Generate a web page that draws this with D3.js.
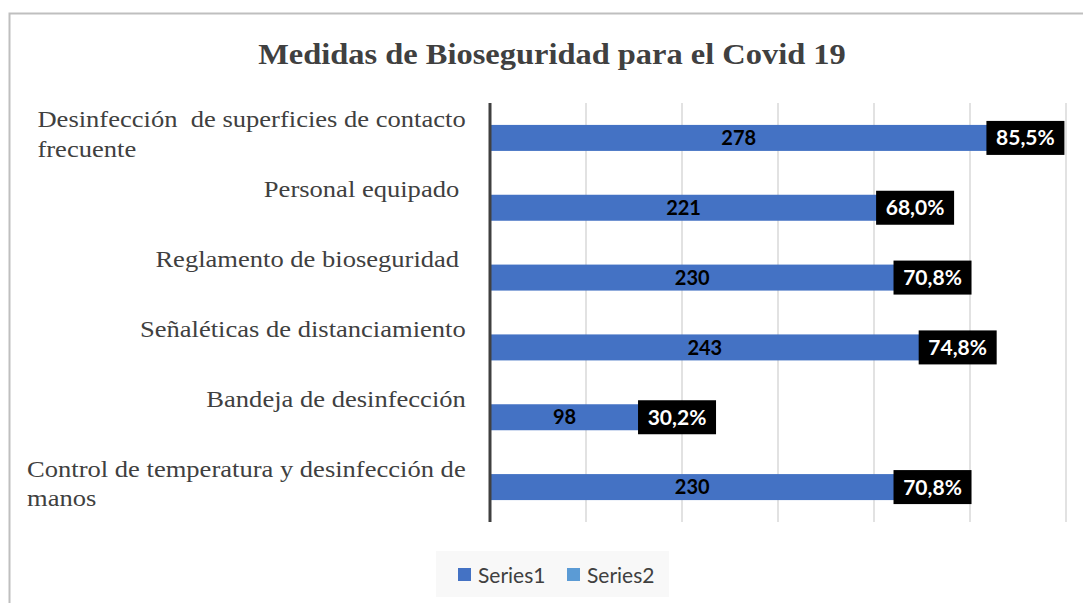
<!DOCTYPE html>
<html>
<head>
<meta charset="utf-8">
<script src="https://cdn.jsdelivr.net/npm/d3@7"></script>
<style>
    body { margin: 0; background: #fff; }
    text.cat { white-space: pre; }
</style>
</head>
<body>
<div id="chart"></div>
<script>
// data
const categories = [
    "Desinfección  de superficies de contacto\nfrecuente",
    "Personal equipado ",
    "Reglamento de bioseguridad ",
    "Señaléticas de distanciamiento",
    "Bandeja de desinfección",
    "Control de temperatura y desinfección de\nmanos"
];
const series1 = [278, 221, 230, 243, 98, 230];
const series2 = [85.5, 68.0, 70.8, 74.8, 30.2, 70.8];
const seriesNames = ["Series1", "Series2"];
// axis in the original doesn't start at zero, gridlines every ~49.6
const xMin = 21;
const gridStep = 49.6;
const gridCount = 6;

class BarChart {

    constructor(_config) {
        this.config = {
            parentElement: _config.parentElement,
            containerWidth: _config.containerWidth || 1083,
            containerHeight: _config.containerHeight || 603,
            margin: _config.margin || {top: 103, right: 17, bottom: 81, left: 490}
        };
        this.initVis();
    }

    initVis() {
        let vis = this;

        vis.width = vis.config.containerWidth - vis.config.margin.left - vis.config.margin.right;
        vis.height = vis.config.containerHeight - vis.config.margin.top - vis.config.margin.bottom;

        vis.svg = d3.select(vis.config.parentElement)
            .append('svg')
            .attr('width', vis.config.containerWidth)
            .attr('height', vis.config.containerHeight);

        // chart frame
        vis.svg.append('rect')
            .attr('x', 9.5)
            .attr('y', 13.5)
            .attr('width', 1100)
            .attr('height', 700)
            .attr('fill', 'white')
            .attr('stroke', '#bfbfbf')
            .attr('stroke-width', 2);

        // the original picture is a bit stretched sideways, so text gets scaleX
        vis.svg.append('text')
            .attr('transform', 'translate(552,64) scale(1.1,1)')
            .attr('text-anchor', 'middle')
            .style('font-family', '"Liberation Serif", "Times New Roman", serif')
            .style('font-weight', 'bold')
            .style('font-size', '29.5px')
            .style('fill', '#404040')
            .text('Medidas de Bioseguridad para el Covid 19');

        vis.chart = vis.svg.append('g')
            .attr('transform', `translate(${vis.config.margin.left},${vis.config.margin.top})`);

        vis.xScale = d3.scaleLinear()
            .domain([xMin, xMin + gridStep * gridCount])
            .range([0, 576]);

        vis.yScale = d3.scaleBand()
            .domain(categories)
            .range([0, vis.height]);

        vis.renderVis();
    }

    renderVis() {
        let vis = this;
        const data = categories.map((c, i) => ({cat: c, v: series1[i], p: series2[i]}));
        const barH = 26;
        const sx = 1.155;

        // gridlines
        vis.chart.selectAll('.grid')
            .data(d3.range(1, gridCount + 1).map(i => xMin + i * gridStep))
            .join('line')
            .attr('class', 'grid')
            .attr('x1', d => vis.xScale(d))
            .attr('x2', d => vis.xScale(d))
            .attr('y1', 0)
            .attr('y2', vis.height)
            .attr('stroke', '#d9d9d9')
            .attr('stroke-width', 1.5);

        // bars
        vis.chart.selectAll('.bar')
            .data(data)
            .join('rect')
            .attr('class', 'bar')
            .attr('x', 0)
            .attr('y', d => vis.yScale(d.cat) + vis.yScale.bandwidth() / 2 - barH / 2)
            .attr('width', d => vis.xScale(d.v) - vis.xScale(xMin))
            .attr('height', barH)
            .attr('fill', '#4472c4');

        // axis line
        vis.chart.append('line')
            .attr('x1', 0).attr('x2', 0)
            .attr('y1', 0).attr('y2', vis.height)
            .attr('stroke', '#404040')
            .attr('stroke-width', 3);

        // values inside the bars
        vis.chart.selectAll('.val')
            .data(data)
            .join('text')
            .attr('class', 'val')
            .attr('x', d => (vis.xScale(d.v) - vis.xScale(xMin)) / 2)
            .attr('y', d => vis.yScale(d.cat) + vis.yScale.bandwidth() / 2)
            .attr('dy', '0.36em')
            .attr('text-anchor', 'middle')
            .style('font-family', 'Lato, "Open Sans", sans-serif')
            .style('font-weight', 'bold')
            .style('font-size', '20px')
            .style('fill', 'black')
            .text(d => d.v);

        // percent labels in black boxes
        const pct = vis.chart.selectAll('.pct')
            .data(data)
            .join('g')
            .attr('class', 'pct')
            .attr('transform', d => `translate(${vis.xScale(d.v) - vis.xScale(xMin)},${vis.yScale(d.cat) + vis.yScale.bandwidth() / 2})`);

        pct.append('rect')
            .attr('x', -1)
            .attr('y', -17)
            .attr('width', 78)
            .attr('height', 34)
            .attr('fill', 'black');

        pct.append('text')
            .attr('x', 38)
            .attr('dy', '0.36em')
            .attr('text-anchor', 'middle')
            .style('font-family', 'Lato, "Open Sans", sans-serif')
            .style('font-weight', 'bold')
            .style('font-size', '21px')
            .style('fill', 'white')
            .text(d => d.p.toFixed(1).replace('.', ',') + '%');

        // category labels, block right aligned, lines left aligned like Excel
        const labels = vis.svg.selectAll('.cat')
            .data(data)
            .join('text')
            .attr('class', 'cat')
            .style('font-family', '"Liberation Serif", "Times New Roman", serif')
            .style('font-size', '23px')
            .style('fill', '#404040');

        labels.each(function(d) {
            const t = d3.select(this);
            const lines = d.cat.split('\n');
            lines.forEach((l, i) => {
                t.append('tspan')
                    .attr('x', 0)
                    .attr('dy', i === 0 ? 0 : 29.5)
                    .text(l);
            });
            let w = 0;
            t.selectAll('tspan').each(function() { w = Math.max(w, this.getComputedTextLength()); });
            const y = vis.config.margin.top + vis.yScale(d.cat) + vis.yScale.bandwidth() / 2 - 10.5;
            t.attr('transform', `translate(${466 - w * sx},${y}) scale(${sx},1)`);
        });

        // legend
        const colors = ['#4472c4', '#5b9bd5'];
        vis.svg.append('rect')
            .attr('x', 436).attr('y', 551)
            .attr('width', 233).attr('height', 46)
            .attr('fill', '#f8f8f8');

        const leg = vis.svg.selectAll('.legend')
            .data(seriesNames)
            .join('g')
            .attr('class', 'legend')
            .attr('transform', (d, i) => `translate(${458 + i * 109},568)`);

        leg.append('rect')
            .attr('width', 13)
            .attr('height', 13)
            .attr('fill', (d, i) => colors[i]);

        leg.append('text')
            .attr('x', 20)
            .attr('y', 7)
            .attr('dy', '0.36em')
            .style('font-family', 'Lato, "Open Sans", sans-serif')
            .style('font-size', '21px')
            .style('fill', '#404040')
            .text(d => d);
    }
}

new BarChart({parentElement: '#chart'});
</script>
</body>
</html>
